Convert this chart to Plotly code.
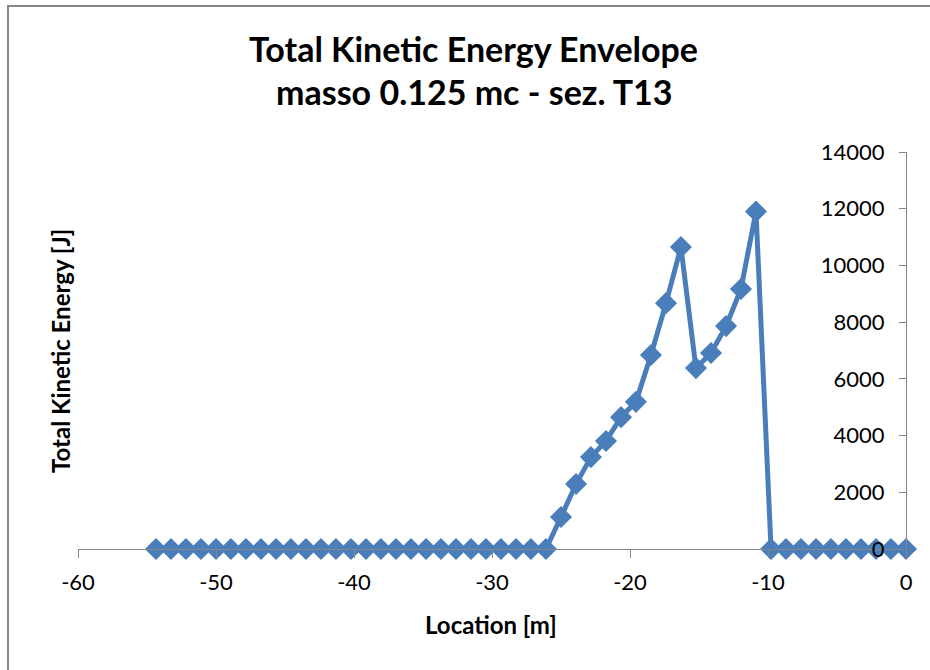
import plotly.graph_objects as go

# Location along the section [m]
location_m = [
    -54.35, -53.26, -52.18, -51.09, -50.00, -48.92, -47.83, -46.74, -45.65, -44.57,
    -43.48, -42.39, -41.31, -40.22, -39.13, -38.05, -36.96, -35.87, -34.78, -33.70,
    -32.61, -31.52, -30.44, -29.35, -28.26, -27.18, -26.09, -25.00, -23.91, -22.83,
    -21.74, -20.65, -19.57, -18.48, -17.39, -16.31, -15.22, -14.13, -13.04, -11.96,
    -10.87, -9.78, -8.70, -7.61, -6.52, -5.44, -4.35, -3.26, -2.17, -1.09, 0.00,
]

# Total kinetic energy envelope [J]
energy_j = [
    0, 0, 0, 0, 0, 0, 0, 0, 0, 0,
    0, 0, 0, 0, 0, 0, 0, 0, 0, 0,
    0, 0, 0, 0, 0, 0, 0, 1130, 2290, 3240,
    3810, 4650, 5190, 6840, 8670, 10650, 6380, 6910, 7860, 9170,
    11900, 0, 0, 0, 0, 0, 0, 0, 0, 0, 0,
]

x_ticks = [-60, -50, -40, -30, -20, -10, 0]
x_tick_labels = ["-60", "-50", "-40", "-30", "-20", "-10", "0"]
y_ticks = [0, 2000, 4000, 6000, 8000, 10000, 12000, 14000]
y_tick_labels = ["0", "2000", "4000", "6000", "8000", "10000", "12000", "14000"]

title_line1 = "Total Kinetic Energy Envelope"
title_line2 = "masso 0.125 mc - sez. T13"
x_title = "Location [m]"
y_title = "Total Kinetic Energy [J]"

W, H = 930, 670
ML, MR, MT, MB = 78, 24, 152, 121
PW, PH = W - ML - MR, H - MT - MB

FONT = "Lato"
AXIS_GREY = "#868686"
LINE_BLUE = "#4A7EBB"


def px_x(p):
    return (p - ML) / PW


def px_y(p):
    return (H - MB - p) / PH


fig = go.Figure()
fig.add_trace(go.Scatter(
    x=location_m,
    y=energy_j,
    mode="lines+markers",
    line=dict(color=LINE_BLUE, width=5),
    marker=dict(symbol="diamond", size=17, color=LINE_BLUE, line=dict(width=0)),
    cliponaxis=False,
    showlegend=False,
))

fig.update_layout(
    width=W,
    height=H,
    margin=dict(l=ML, r=MR, t=MT, b=MB),
    paper_bgcolor="white",
    plot_bgcolor="white",
    font=dict(family=FONT, color="#000000"),
    xaxis=dict(
        range=[-60, 0],
        tickvals=x_ticks,
        ticktext=x_tick_labels,
        ticks="outside",
        ticklen=8,
        tickcolor=AXIS_GREY,
        tickwidth=1,
        showline=True,
        linecolor=AXIS_GREY,
        linewidth=1,
        showgrid=False,
        zeroline=False,
        tickfont=dict(size=22, family=FONT),
        ticklabelstandoff=6,
    ),
    yaxis=dict(
        range=[0, 14000],
        tickvals=y_ticks,
        ticktext=y_tick_labels,
        ticks="outside",
        ticklen=7,
        tickcolor=AXIS_GREY,
        tickwidth=1,
        showline=True,
        linecolor=AXIS_GREY,
        linewidth=1,
        showgrid=False,
        zeroline=False,
        anchor="free",
        position=1,
        side="left",
        tickfont=dict(size=22, family=FONT),
        ticklabelstandoff=10,
        layer="above traces",
    ),
    shapes=[
        dict(
            type="rect", xref="paper", yref="paper",
            x0=px_x(8), x1=px_x(950), y0=px_y(690), y1=px_y(6),
            line=dict(color=AXIS_GREY, width=2),
            fillcolor="rgba(0,0,0,0)",
        )
    ],
    annotations=[
        dict(text=f"<b>{title_line1}</b>", x=px_x(473), y=px_y(48), xref="paper", yref="paper",
             showarrow=False, xanchor="center", yanchor="middle", font=dict(size=34, family=FONT)),
        dict(text=f"<b>{title_line2}</b>", x=px_x(474), y=px_y(92), xref="paper", yref="paper",
             showarrow=False, xanchor="center", yanchor="middle", font=dict(size=34, family=FONT)),
        dict(text=f"<b>{x_title}</b>", x=px_x(491), y=px_y(624), xref="paper", yref="paper",
             showarrow=False, xanchor="center", yanchor="middle", font=dict(size=24, family=FONT)),
        dict(text=f"<b>{y_title}</b>", x=px_x(60), y=px_y(351), xref="paper", yref="paper",
             showarrow=False, xanchor="center", yanchor="middle", textangle=-90,
             font=dict(size=24, family=FONT)),
    ],
)

fig.write_html("out.html")
